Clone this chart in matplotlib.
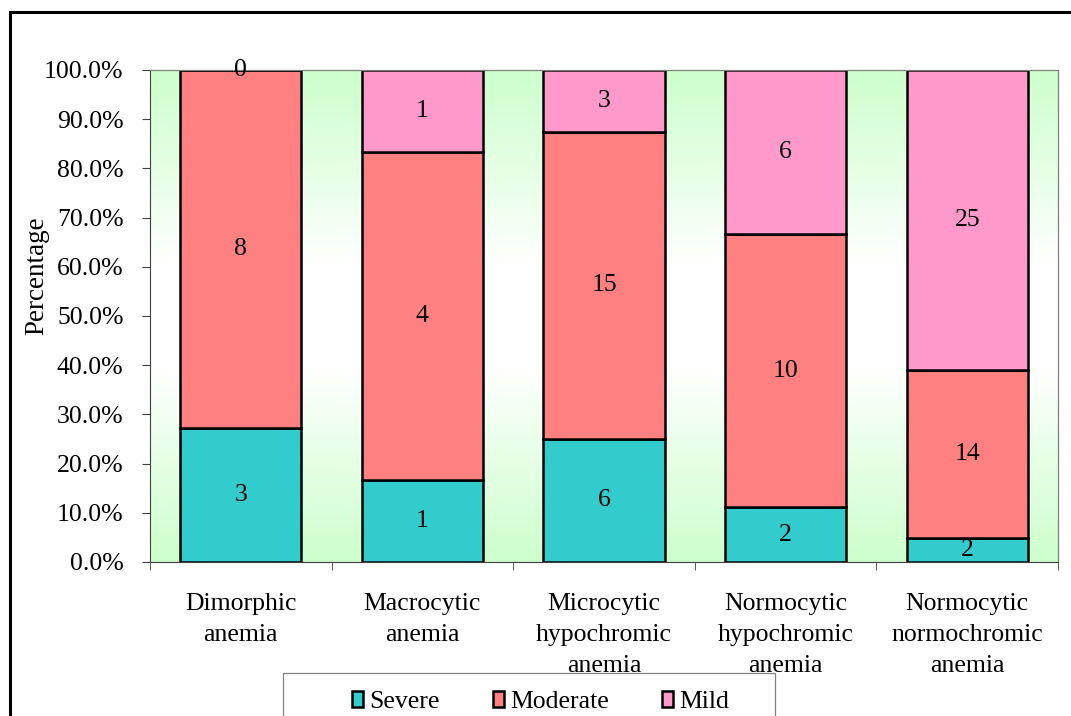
import numpy as np
import matplotlib
matplotlib.use("Agg")
import matplotlib.pyplot as plt
from matplotlib.patches import Rectangle, Patch
from matplotlib.ticker import PercentFormatter

plt.rcParams['font.family'] = ['Liberation Serif', 'DejaVu Serif']

# anemia types and counts per severity grade
categories = ['Dimorphic\nanemia', 'Macrocytic\nanemia', 'Microcytic\nhypochromic\nanemia',
              'Normocytic\nhypochromic\nanemia', 'Normocytic\nnormochromic\nanemia']
severe = [3, 1, 6, 2, 2]
moderate = [8, 4, 15, 10, 14]
mild = [0, 1, 3, 6, 25]

series = [('Severe', severe, '#33CCCC'),
          ('Moderate', moderate, '#FF8080'),
          ('Mild', mild, '#FF99CC')]

W, H = 1071, 716
fig = plt.figure(figsize=(W / 100, H / 100), dpi=100)
ax = fig.add_axes([150 / W, 1 - 562 / H, 908 / W, 492 / H])

# green-white-green background inside the plot area
t = np.linspace(0, 1, 256)
w = np.clip((1 - np.abs(2 * t - 1)) * 1.25, 0, 1)
green = np.array([0.8, 1.0, 0.8])
grad = green[None, :] + (1 - green[None, :]) * w[:, None]
ax.imshow(grad[:, None, :], extent=(-0.5, 4.5, 0, 1), aspect='auto',
          origin='lower', zorder=0, interpolation='bilinear')

totals = np.array(severe) + np.array(moderate) + np.array(mild)
x = np.arange(len(categories))
bottom = np.zeros(len(categories))
for name, counts, color in series:
    frac = np.array(counts) / totals
    ax.bar(x, frac, 0.667, bottom=bottom, color=color, edgecolor='black',
           linewidth=1.8, zorder=2, label=name)
    for xi, b, f, c in zip(x, bottom, frac, counts):
        ax.text(xi, b + f / 2, str(c), ha='center', va='center',
                fontsize=18.5, zorder=3)
    bottom = bottom + frac

ax.set_xlim(-0.5, 4.5)
ax.set_ylim(0, 1)
ax.set_yticks(np.arange(0, 1.01, 0.1))
ax.yaxis.set_major_formatter(PercentFormatter(1.0, decimals=1))
ax.set_xticks(x)
ax.set_xticklabels(categories, linespacing=1.55)
ax.set_xticks(np.arange(-0.5, 5, 1), minor=True)
ax.tick_params(axis='x', which='major', length=0, pad=22, labelsize=18.5)
ax.tick_params(axis='x', which='minor', length=6, direction='out', color='#404040')
ax.tick_params(axis='y', length=6, direction='out', pad=13, labelsize=18.5, color='#404040')

for side in ('top', 'right'):
    ax.spines[side].set_color('#808080')
    ax.spines[side].set_linewidth(0.9)
ax.spines['left'].set_color('#404040')
ax.spines['bottom'].set_color('#404040')

fig.text(37 / W, 1 - 276 / H, 'Percentage', rotation=90, ha='center',
         va='center', fontsize=19.5)

# legend frame and entries along the bottom edge
fig.patches.append(Rectangle((283 / W, 1 - 740 / H), 492 / W, 67 / H,
                             transform=fig.transFigure, facecolor='white',
                             edgecolor='#808080', linewidth=0.9))
handles = [Patch(facecolor=c, edgecolor='black', linewidth=1.8, label=n)
           for n, _, c in series]
fig.legend(handles=handles, loc='center left', ncol=3, frameon=False,
           bbox_to_anchor=(352 / W, 1 - 702 / H), fontsize=18.5,
           handlelength=0.42, handleheight=0.55, handletextpad=0.25,
           columnspacing=2.08, borderpad=0, borderaxespad=0)

# outer chart border
fig.patches.append(Rectangle((10 / W, -0.2), 1.2, 1.2 - 12 / H,
                             transform=fig.transFigure, fill=False,
                             edgecolor='black', linewidth=2.2))

fig.savefig('out.png', dpi=100)
